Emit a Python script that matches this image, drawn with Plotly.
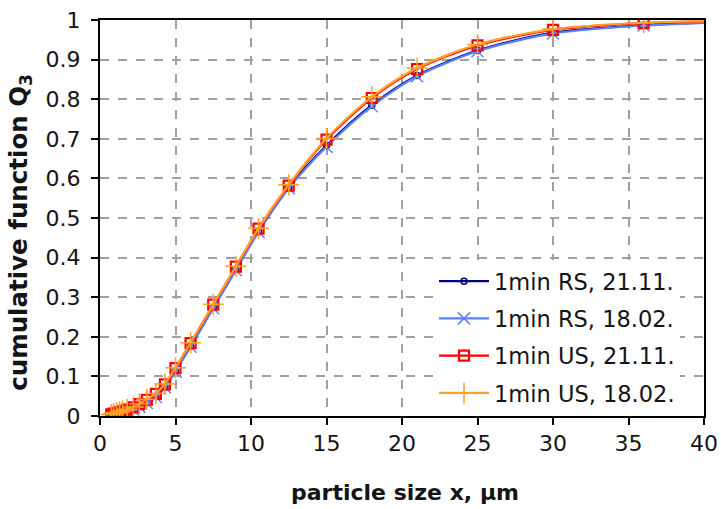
import plotly.graph_objects as go

# particle size classes (µm)
x_size = [0.75, 0.9, 1.1, 1.3, 1.5, 1.8, 2.2, 2.6, 3.1, 3.7, 4.3, 5.0, 6.0, 7.5,
          9.0, 10.5, 12.5, 15.0, 18.0, 21.0, 25.0, 30.0, 36.0, 43.0]

q3_rs_2111 = [0.003, 0.004, 0.005, 0.007, 0.009, 0.012, 0.017, 0.024, 0.034, 0.049,
              0.073, 0.114, 0.177, 0.274, 0.370, 0.467, 0.577, 0.683, 0.785, 0.860,
              0.923, 0.968, 0.987, 0.997]
q3_rs_1802 = [0.002, 0.003, 0.004, 0.006, 0.008, 0.011, 0.016, 0.023, 0.033, 0.048,
              0.072, 0.112, 0.175, 0.272, 0.368, 0.465, 0.575, 0.680, 0.782, 0.858,
              0.921, 0.966, 0.986, 0.997]
q3_us_2111 = [0.004, 0.006, 0.008, 0.010, 0.012, 0.016, 0.022, 0.030, 0.041, 0.056,
              0.080, 0.121, 0.184, 0.281, 0.377, 0.473, 0.582, 0.698, 0.803, 0.876,
              0.936, 0.975, 0.992, 0.999]
q3_us_1802 = [0.004, 0.006, 0.008, 0.010, 0.013, 0.017, 0.023, 0.031, 0.042, 0.057,
              0.081, 0.122, 0.185, 0.282, 0.378, 0.474, 0.584, 0.701, 0.806, 0.879,
              0.938, 0.977, 0.993, 0.999]

x_title = "particle size x, µm"
y_title = "cumulative function Q<sub>3</sub>"

series = [
    ("1min RS, 21.11.", q3_rs_2111, "#000080", dict(symbol="circle-open", size=6, line=dict(width=1.5))),
    ("1min RS, 18.02.", q3_rs_1802, "#5B80FF", dict(symbol="x-thin-open", size=12, line=dict(width=1.5))),
    ("1min US, 21.11.", q3_us_2111, "#FF0000", dict(symbol="square-open", size=10, line=dict(width=2.2))),
    ("1min US, 18.02.", q3_us_1802, "#FFA024", dict(symbol="cross-thin-open", size=15, line=dict(width=1.5))),
]

fig = go.Figure()
for i, (name, yv, col, mk) in enumerate(series):
    mk = dict(mk)
    mk["color"] = col
    mk["line"] = dict(mk["line"], color=col)
    fig.add_trace(go.Scatter(
        x=x_size, y=yv, name=name, mode="lines+markers",
        line=dict(color=col, width=2.2, shape="spline", smoothing=0.8),
        marker=mk, legendgroup=f"g{i}",
    ))

font_family = "DejaVu Sans, sans-serif"
text_col = "#141414"
fig.update_layout(
    width=721, height=509,
    margin=dict(l=100, r=17, t=20, b=93),
    paper_bgcolor="white", plot_bgcolor="white",
    font=dict(family=font_family, size=22, color=text_col),
    showlegend=True,
    legend=dict(x=0.553, y=0.005, xanchor="left", yanchor="bottom",
                bgcolor="white", borderwidth=0, tracegroupgap=5,
                font=dict(size=22.5, color=text_col),
                itemwidth=50),
    annotations=[
        dict(text="<b>" + x_title + "</b>", xref="paper", yref="paper",
             x=0.505, y=-0.194, xanchor="center", yanchor="middle", showarrow=False,
             font=dict(size=22, color=text_col, family=font_family)),
        dict(text="<b>" + y_title + "</b>", xref="paper", yref="paper",
             x=-0.1325, y=0.465, xanchor="center", yanchor="middle", showarrow=False,
             textangle=-90, font=dict(size=24.5, color=text_col, family=font_family)),
    ],
)
fig.update_xaxes(
    range=[0, 40], dtick=5, tick0=0, automargin=False,
    showline=True, linecolor="black", linewidth=2, mirror=True,
    ticks="outside", ticklen=7, tickcolor="black", tickwidth=1.5,
    showgrid=True, gridcolor="#A0A0A0", griddash="dash", gridwidth=1.5,
    zeroline=False,
)
fig.update_yaxes(
    range=[0, 1], dtick=0.1, tick0=0, automargin=False,
    showline=True, linecolor="black", linewidth=2, mirror=True,
    ticks="outside", ticklen=7, tickcolor="black", tickwidth=1.5,
    showgrid=True, gridcolor="#A0A0A0", griddash="dash", gridwidth=1.5,
    zeroline=False, ticklabelstandoff=6,
)

fig.write_html("out.html", config={"displayModeBar": False},
               post_script="document.body.style.margin='0';")
